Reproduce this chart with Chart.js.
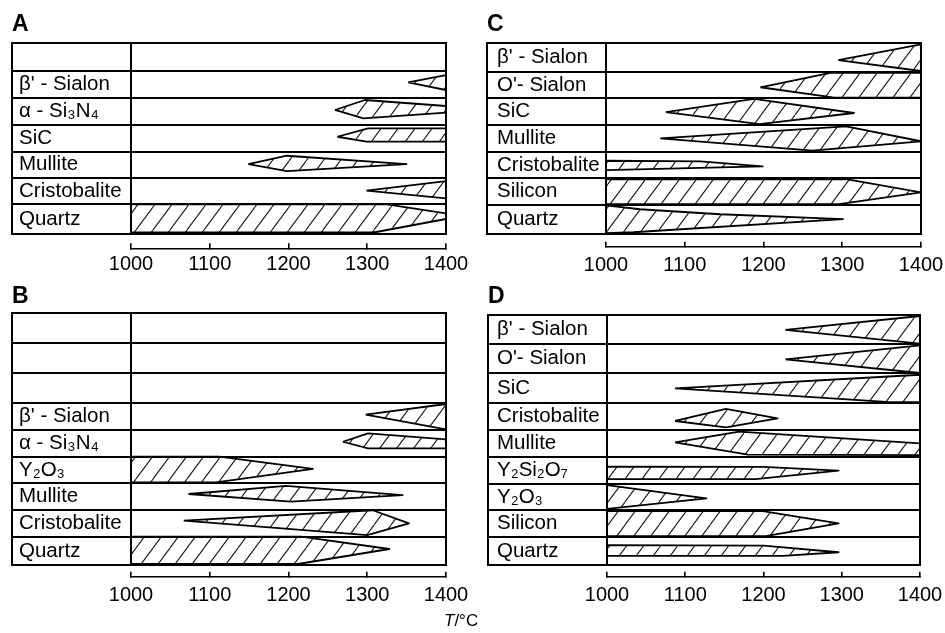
<!DOCTYPE html>
<html><head><meta charset="utf-8">
<script src="https://cdn.jsdelivr.net/npm/chart.js@4.4.1/dist/chart.umd.min.js"></script>
<style>
html,body{margin:0;padding:0;background:#fff;overflow:hidden;width:945px;height:633px}
#wrap{position:relative;width:945px;height:633px;overflow:hidden;background:#fff}
canvas{position:absolute}
#tlabel{position:absolute;left:444px;top:612px;font:17px 'Liberation Sans',Arial,sans-serif;color:#000;line-height:17px;white-space:nowrap}
</style></head><body>
<div id="wrap">
<canvas id="cA" width="480" height="300" style="left:0;top:0"></canvas>
<canvas id="cC" width="490" height="300" style="left:472px;top:0"></canvas>
<canvas id="cB" width="480" height="361" style="left:0;top:272px"></canvas>
<canvas id="cD" width="490" height="361" style="left:472px;top:272px"></canvas>
<div id="tlabel"><i>T</i>/°C</div>
</div>
<script>
// ---------- data ----------
const tempTicks = [1000, 1100, 1200, 1300, 1400];

// Each shape: polygon vertices [temperature, relative half-width (+ up, - down, 1 = row edge)]
const phasesA = ['', "β' - Sialon", 'α - Si₃N₄', 'SiC', 'Mullite', 'Cristobalite', 'Quartz'];
const shapesA = [
  null,
  [[1352,0.14],[1400,0.68],[1400,-0.43]],
  [[1259,0.1],[1297,0.83],[1400,0.39],[1400,-0.1],[1295,-0.51]],
  [[1262,0.12],[1301,0.75],[1400,0.75],[1400,-0.25],[1299,-0.25]],
  [[1149,0.05],[1198,0.69],[1350,0.05],[1198,-0.49]],
  [[1299,0.03],[1400,0.75],[1400,-0.55]],
  [[1000,1],[1325,1],[1400,0.4],[1400,0.02],[1308,-0.88],[1000,-0.88]]
];

const phasesB = ['', '', '', "β' - Sialon", 'α - Si₃N₄', 'Y₂O₃', 'Mullite', 'Cristobalite', 'Quartz'];
const shapesB = [
  null, null, null,
  [[1298,0.15],[1400,0.95],[1400,-0.95]],
  [[1269,0.12],[1301,0.75],[1400,0.3],[1400,-0.38],[1301,-0.38]],
  [[1000,1],[1112,1],[1231,0.08],[1108,-0.93],[1000,-0.93]],
  [[1073,0.2],[1197,0.8],[1345,0.12],[1203,-0.38]],
  [[1067,0.2],[1307,0.98],[1353,0],[1300,-0.88]],
  [[1000,1],[1216,1],[1328,0.13],[1212,-0.93],[1000,-0.93]]
];

const phasesC = ["β' - Sialon", "O'- Sialon", 'SiC', 'Mullite', 'Cristobalite', 'Silicon', 'Quartz'];
const shapesC = [
  [[1295,-0.18],[1400,0.93],[1400,-0.95]],
  [[1196,-0.17],[1285,0.92],[1400,0.92],[1400,-0.95],[1290,-0.95]],
  [[1076,-0.04],[1188,0.95],[1315,-0.1],[1195,-0.93]],
  [[1069,0],[1305,0.9],[1400,-0.22],[1262,-0.92]],
  [[1000,0.32],[1120,0.28],[1199,-0.1],[1000,-0.38]],
  [[1000,0.93],[1305,0.93],[1400,-0.05],[1296,-0.93],[1000,-0.93]],
  [[1000,0.98],[1043,0.71],[1145,0.37],[1301,0.04],[1035,-0.86],[1000,-0.93]]
];

const phasesD = ["β' - Sialon", "O'- Sialon", 'SiC', 'Cristobalite', 'Mullite', 'Y₂Si₂O₇', 'Y₂O₃', 'Silicon', 'Quartz'];
const shapesD = [
  [[1228,-0.03],[1400,0.93],[1400,-0.97]],
  [[1228,-0.05],[1400,0.9],[1400,-0.98]],
  [[1087,-0.02],[1400,0.9],[1400,-0.97],[1357,-0.95]],
  [[1087,-0.34],[1152,0.54],[1218,-0.15],[1152,-0.8]],
  [[1087,0.07],[1169,0.88],[1400,0],[1400,-0.88],[1180,-0.85]],
  [[1000,0.28],[1200,0.25],[1296,-0.02],[1190,-0.65],[1000,-0.65]],
  [[1000,0.92],[1127,-0.1],[1000,-0.92]],
  [[1000,0.92],[1199,0.92],[1296,0],[1203,-0.95],[1000,-0.95]],
  [[1000,0.4],[1200,0.37],[1296,-0.1],[1225,-0.36],[1000,-0.36]]
];

// ---------- layout (pixels) ----------
const layoutA = {canvas:'cA', letter:'A', edges:[0,27.4,54.4,81.7,108.4,134.4,161,191],
  padL:12, spacer:7, labelW:112, padR:34, titleTop:12.8, titleBot:7.5, gap:14, xH:34, tickPad:9.5, padB:17.7};
const layoutC = {canvas:'cC', letter:'C', edges:[0,28.4,55,81.7,108.4,135,161.7,191],
  padL:15, spacer:10, labelW:109, padR:41, titleTop:13.5, titleBot:6.8, gap:12.4, xH:34, tickPad:11.3, padB:19.3};
const layoutB = {canvas:'cB', letter:'B', edges:[0,30,60,90,116.7,143.4,170,196.7,223.4,251.7],
  padL:12, spacer:7, labelW:112, padR:34, titleTop:13.2, titleBot:5.1, gap:11.7, xH:34, tickPad:11.3, padB:22.3};
const layoutD = {canvas:'cD', letter:'D', edges:[0,29,58.3,87.7,115,141.7,169,195,221.7,250],
  padL:16, spacer:9, labelW:110, padR:42, titleTop:13.2, titleBot:6.8, gap:11.7, xH:34, tickPad:11.3, padB:22.3};

const FONT = "'Liberation Sans', Arial, Helvetica, sans-serif";
const BLACK = '#000';
const FRAME_W = 2;

function makeHatch(ctx) {
  const w = 17, h = 23;
  const t = document.createElement('canvas');
  t.width = w; t.height = h;
  const g = t.getContext('2d');
  g.strokeStyle = '#111';
  g.lineWidth = 1.05;
  g.beginPath();
  for (let k = -1; k <= 1; k++) { g.moveTo(k * w, h); g.lineTo((k + 1) * w, 0); }
  g.stroke();
  return ctx.createPattern(t, 'repeat');
}

function hid() { return {display: false}; }

function buildPanel(L, phases, shapes) {
  const canvas = document.getElementById(L.canvas);
  const ctx = canvas.getContext('2d');
  const hatch = makeHatch(ctx);
  const E = L.edges, n = phases.length, H = E[n];
  const centers = phases.map((_, i) => (E[i] + E[i + 1]) / 2);
  const halves = phases.map((_, i) => (E[i + 1] - E[i]) / 2);
  const datasets = [];
  shapes.forEach((poly, i) => {
    if (!poly) return;
    const pts = poly.map(([t, h]) => ({x: t, y: centers[i] - h * halves[i]}));
    pts.push({x: pts[0].x, y: pts[0].y});
    datasets.push({
      label: phases[i], data: pts, xAxisID: 'x', yAxisID: 'y',
      fill: 'shape', backgroundColor: hatch, borderColor: BLACK, borderWidth: 1.8,
      borderJoinStyle: 'round', pointRadius: 0, pointHoverRadius: 0, tension: 0
    });
  });
  return new Chart(ctx, {
    type: 'line',
    data: {datasets},
    options: {
      responsive: false, animation: false, events: [],
      layout: {padding: {left: L.padL, right: L.padR, top: 0, bottom: L.padB}},
      plugins: {
        legend: {display: false}, tooltip: {enabled: false},
        title: {display: true, text: L.letter, align: 'start', color: BLACK,
          font: {family: FONT, size: 23, weight: 'bold', lineHeight: 1},
          padding: {top: L.titleTop, bottom: L.titleBot}}
      },
      scales: {
        x: {type: 'linear', position: 'bottom', weight: 2, min: 1000, max: 1400,
          afterBuildTicks: s => { s.ticks = tempTicks.map(v => ({value: v})); },
          afterFit: s => { s.height = L.xH; },
          grid: {display: true, drawOnChartArea: false, drawTicks: true, tickLength: -5, color: BLACK, lineWidth: 1.6},
          border: {display: true, color: BLACK, width: 1.6},
          ticks: {color: BLACK, font: {family: FONT, size: 20}, padding: L.tickPad, maxRotation: 0, autoSkip: false,
            callback: v => String(v)}},
        xGap: {type: 'linear', axis: 'x', position: 'bottom', weight: 1,
          grid: hid(), border: hid(), ticks: hid(), afterFit: s => { s.height = L.gap; }},
        yG: {type: 'linear', axis: 'y', position: 'left', weight: 0, min: 0, max: H, reverse: true,
          afterBuildTicks: s => { s.ticks = E.map(v => ({value: v})); },
          grid: {display: true, drawOnChartArea: true, drawTicks: true, tickLength: L.labelW + L.spacer, color: BLACK, lineWidth: FRAME_W},
          border: hid(), ticks: hid(), afterFit: s => { s.width = 0; }},
        y: {type: 'linear', position: 'left', weight: 1, min: 0, max: H, reverse: true,
          afterBuildTicks: s => { s.ticks = centers.map(v => ({value: v})); },
          grid: hid(), border: {display: true, color: BLACK, width: FRAME_W},
          ticks: {callback: (v, i) => phases[i], crossAlign: 'far', autoSkip: false, color: BLACK,
            font: {family: FONT, size: 20.5}, padding: 0},
          afterFit: s => { s.width = L.labelW; }},
        ySp: {type: 'linear', axis: 'y', position: 'left', weight: 2,
          grid: hid(), border: hid(), ticks: hid(), afterFit: s => { s.width = L.spacer; }},
        yL: {type: 'linear', axis: 'y', position: 'left', weight: 3,
          grid: hid(), border: {display: true, color: BLACK, width: FRAME_W}, ticks: hid(), afterFit: s => { s.width = 0; }},
        yR: {type: 'linear', axis: 'y', position: 'right', weight: 0,
          grid: hid(), border: {display: true, color: BLACK, width: FRAME_W}, ticks: hid(), afterFit: s => { s.width = 0; }}
      }
    }
  });
}

buildPanel(layoutA, phasesA, shapesA);
buildPanel(layoutC, phasesC, shapesC);
buildPanel(layoutB, phasesB, shapesB);
buildPanel(layoutD, phasesD, shapesD);
</script>
</body></html>
